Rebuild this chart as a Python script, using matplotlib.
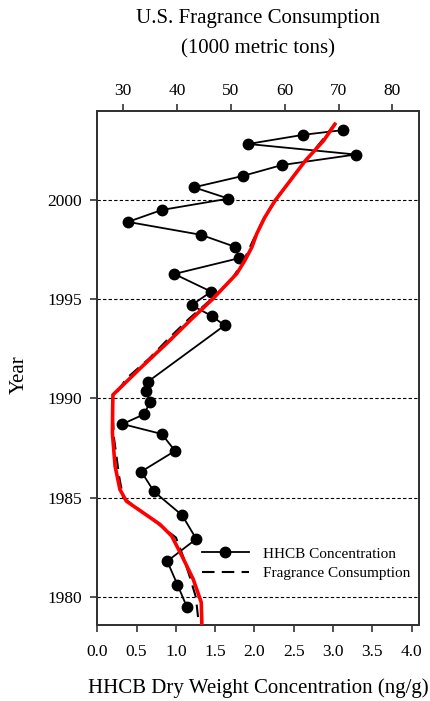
import matplotlib
matplotlib.use("Agg")
import matplotlib.pyplot as plt

plt.rcParams['font.family'] = ['Liberation Serif', 'DejaVu Serif']

# HHCB concentration (ng/g) by year (core sections)
hhcb_year = [2003.5, 2003.26, 2002.8, 2002.27, 2001.74, 2001.19, 2000.62, 2000.05,
             1999.48, 1998.88, 1998.23, 1997.63, 1997.06, 1996.26, 1995.37, 1994.69,
             1994.14, 1993.67, 1990.83, 1990.35, 1989.84, 1989.21, 1988.71, 1988.21,
             1987.36, 1986.32, 1985.32, 1984.12, 1982.93, 1981.81, 1980.63, 1979.51]
hhcb_conc = [3.13, 2.62, 1.92, 3.29, 2.35, 1.85, 1.23, 1.67,
             0.82, 0.39, 1.32, 1.75, 1.81, 0.98, 1.45, 1.20,
             1.46, 1.62, 0.64, 0.62, 0.67, 0.60, 0.32, 0.82,
             0.99, 0.56, 0.72, 1.08, 1.26, 0.89, 1.02, 1.14]

# U.S. fragrance consumption (1000 metric tons)
frag_year = [1979, 1980, 1981, 1982, 1983, 1984, 1985, 1986, 1987, 1988, 1989, 1990,
             1991, 1992, 1993, 1994, 1995, 1996, 1997, 1998, 1999, 2000, 2001, 2002,
             2003, 2004]
frag_cons = [43.9, 43.5, 42.4, 41.2, 39.8, 35.0, 30.0, 29.3, 28.8, 28.3, 28.1, 28.1,
             30.6, 34.8, 38.4, 42.2, 46.4, 50.2, 52.5, 54.2, 56.0, 58.3, 61.1, 64.0,
             67.0, 69.8]

# Smoothed consumption curve (red)
fit_year = [1978.6, 1978.74, 1979.74, 1980.91, 1982.08, 1983.08, 1983.67, 1984.25,
            1984.83, 1985.42, 1986.59, 1988.26, 1989.43, 1990.18, 1991.6, 1992.77,
            1993.94, 1995.02, 1996.28, 1996.94, 1997.61, 1998.28, 1999.11, 1999.95,
            2000.95, 2001.95, 2002.96, 2003.87]
fit_cons = [44.6, 44.6, 44.5, 43.0, 40.9, 39.0, 36.8, 33.7,
            30.6, 29.4, 28.5, 28.0, 28.05, 28.1, 33.5, 38.1,
            42.5, 46.7, 51.1, 52.6, 53.9, 54.8, 56.3, 58.2,
            61.0, 63.8, 67.2, 69.5]

bottom_ticks = [0.0, 0.5, 1.0, 1.5, 2.0, 2.5, 3.0, 3.5, 4.0]
top_ticks = [30, 40, 50, 60, 70, 80]
year_ticks = [1980, 1985, 1990, 1995, 2000]

fig = plt.figure(figsize=(4.30, 7.01), dpi=100)
ax = fig.add_axes([0.2263, 0.1084, 0.749, 0.733])

ax.set_xlim(0, 4.1)
ax.set_ylim(1978.6, 2004.45)
ax.set_xticks(bottom_ticks)
ax.set_xticklabels([f"{t:.1f}" for t in bottom_ticks])
ax.set_yticks(year_ticks)
ax.grid(axis='y', linestyle=(0, (3, 2)), color='black', linewidth=0.8)
ax.set_axisbelow(True)

ln1, = ax.plot(hhcb_conc, hhcb_year, '-o', color='black', linewidth=1.3,
               markersize=7.5, zorder=3, label='HHCB Concentration')

ax2 = ax.twiny()
ax2.set_xlim(25.2, 85.0)
ax2.set_xticks(top_ticks)
ln2, = ax2.plot(frag_cons, frag_year, color='black', linewidth=1.5,
                linestyle=(0, (6, 3.5)), zorder=2, label='Fragrance Consumption')
ax2.plot(fit_cons, fit_year, color='#ff0000', linewidth=2.6, zorder=4,
         solid_capstyle='butt', solid_joinstyle='round')
ax2.set_ylim(1978.6, 2004.45)

for a in (ax, ax2):
    for s in a.spines.values():
        s.set_linewidth(1.4)
        s.set_color('#333333')
    a.tick_params(direction='out', length=5, width=1.2, labelsize=12.5, color='#333333')
ax.tick_params(axis='x', pad=9)
ax.tick_params(axis='y', pad=6)
ax2.tick_params(axis='x', pad=4)

leg = ax.legend(handles=[ln1, ln2], loc='lower right', bbox_to_anchor=(1.0, 0.07),
                frameon=False, fontsize=11, handlelength=3.1, handletextpad=0.9,
                labelspacing=0.35, borderaxespad=0.2)

fig.text(0.6007, 0.974, "U.S. Fragrance Consumption", ha='center', va='center', fontsize=15)
fig.text(0.6007, 0.930, "(1000 metric tons)", ha='center', va='center', fontsize=15)
fig.text(0.6007, 0.018, "HHCB Dry Weight Concentration (ng/g)", ha='center', va='center', fontsize=15)
fig.text(0.044, 0.465, "Year", ha='center', va='center', rotation=90, fontsize=15)

fig.savefig("out.png", dpi=100)
